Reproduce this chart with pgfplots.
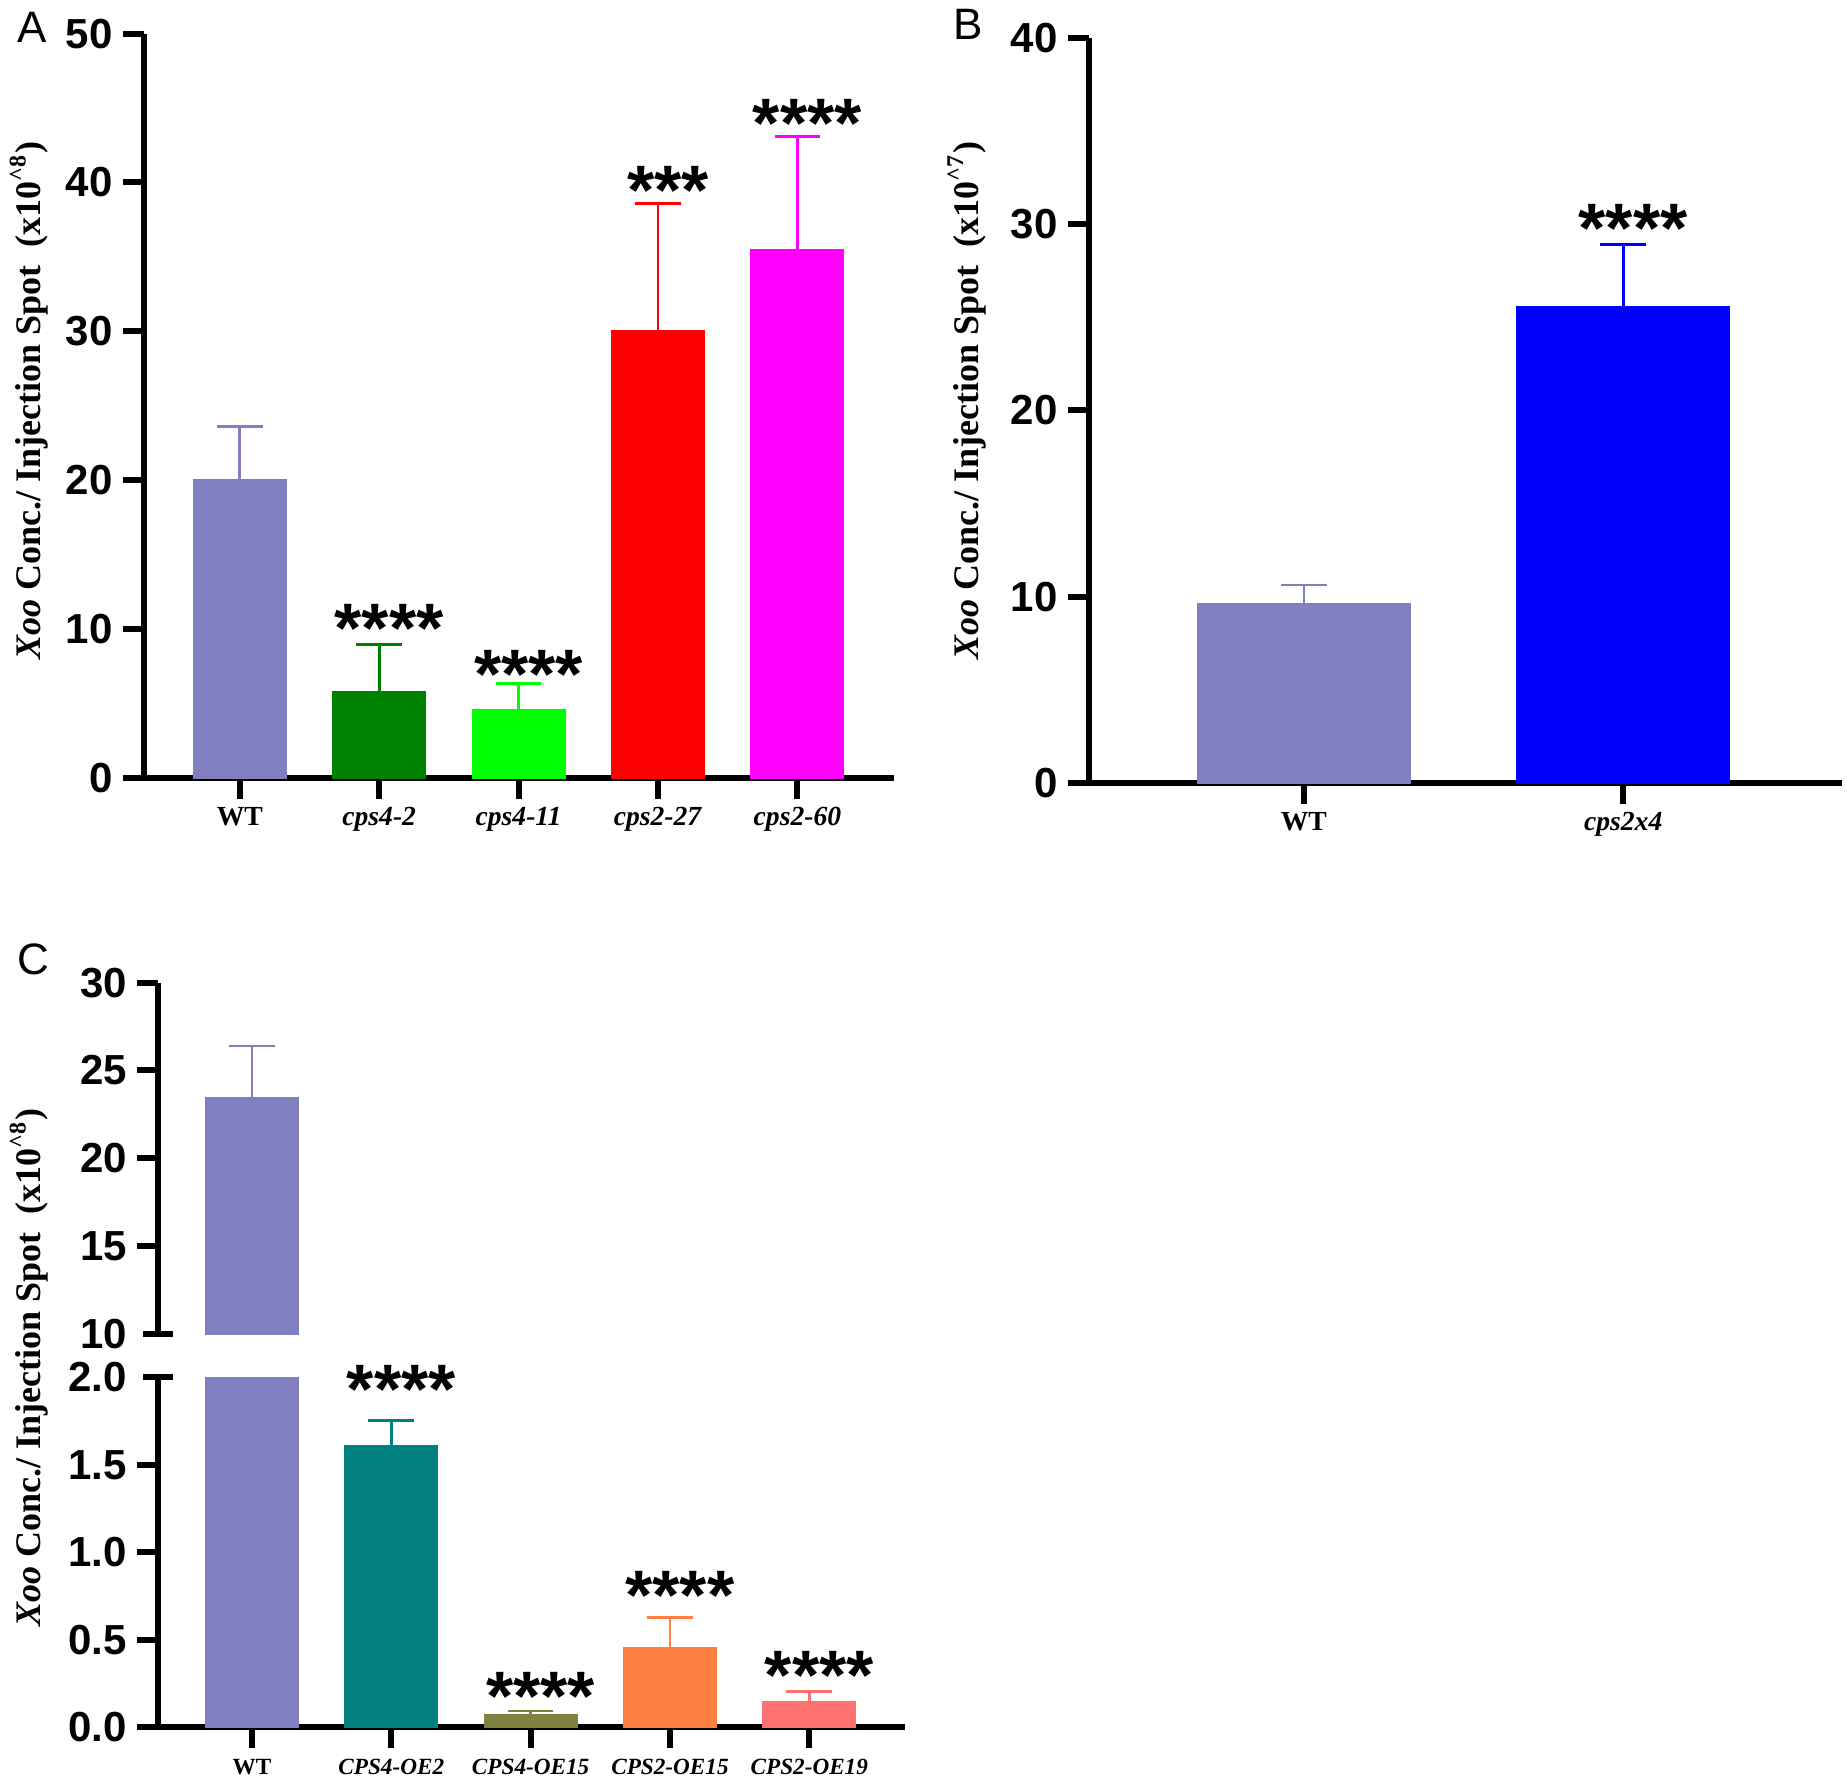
\documentclass[border=0pt]{standalone}
\usepackage{fontspec}
\setmainfont{Liberation Serif}
\newfontfamily\arial{Liberation Sans}
\usepackage{pgfplots}
\pgfplotsset{compat=1.18}

\definecolor{wt}{HTML}{8080C0}
\definecolor{cpsA}{HTML}{008000}
\definecolor{cpsB}{HTML}{00FF00}
\definecolor{cpsC}{HTML}{FF0000}
\definecolor{cpsD}{HTML}{FF00FF}
\definecolor{dbl}{HTML}{0000FF}
\definecolor{oeA}{HTML}{008080}
\definecolor{oeB}{HTML}{808040}
\definecolor{oeC}{HTML}{FF8040}
\definecolor{oeD}{HTML}{FF7070}

\pgfplotsset{
  panel/.style={
    scale only axis, anchor=south west, clip mode=individual,
    axis x line*=bottom, axis y line*=left,
    axis line style={line width=1.5pt,-},
    tick style={line width=1.5pt, black},
    tick align=outside, major tick length=5.2pt,
    minor tick num=0,
    yticklabel style={font=\arial\bfseries\fontsize{10.5}{12}\selectfont, anchor=east, inner sep=0pt, xshift=-2.4pt},
    xticklabel style={font=\bfseries\fontsize{6.9}{8}\selectfont, anchor=base, inner sep=0pt, yshift=-6.6pt},
  },
  mybar/.style={ybar, bar width=0.665, bar shift=0pt, fill=#1, draw=#1, line width=0.3pt,
    error bars/.cd, y dir=plus, y explicit,
    error bar style={line width=0.65pt, color=#1},
    error mark options={rotate=90, line width=0.65pt, mark size=5.7pt, color=#1}},
}
\tikzset{sig/.style={font=\arial\bfseries\fontsize{17.5}{20}\selectfont, anchor=base, inner sep=0pt, yshift=-5.5pt, xshift=2.5pt}}

\newcommand\ylab[1]{\textit{Xoo} Conc./ Injection Spot\ \ (x10\textsuperscript{\^{}#1})}

\begin{document}
\begin{tikzpicture}
\useasboundingbox (0,0) rectangle (461.75pt,445.25pt);

% ---------------- Panel A
\begin{axis}[panel, at={(35.9pt,250.75pt)}, width=187.5pt, height=186.1pt,
  xmin=-0.69, xmax=4.69, ymin=0, ymax=50,
  ytick={0,10,20,30,40,50}, yticklabels={0,10,20,30,40,50},
  xtick={0,1,2,3,4},
  xticklabels={WT,\textit{cps4-2},\textit{cps4-11},\textit{cps2-27},\textit{cps2-60}}]
\addplot[mybar=wt]   coordinates {(0,20.04) +- (0,3.56)};
\addplot[mybar=cpsA] coordinates {(1,5.78) +- (0,3.20)};
\addplot[mybar=cpsB] coordinates {(2,4.62) +- (0,1.71)};
\addplot[mybar=cpsC] coordinates {(3,30.04) +- (0,8.56)};
\addplot[mybar=cpsD] coordinates {(4,35.50) +- (0,7.60)};
\node[sig] at (axis cs:1,9.89) {****};
\node[sig] at (axis cs:2,6.80) {****};
\node[sig] at (axis cs:3,39.35) {***};
\node[sig] at (axis cs:4,43.82) {****};
\end{axis}

% ---------------- Panel B
\begin{axis}[panel, at={(272.2pt,249.5pt)}, width=188.3pt, height=186.25pt,
  xmin=-0.673, xmax=1.685, ymin=0, ymax=40,
  ytick={0,10,20,30,40}, yticklabels={0,10,20,30,40},
  xtick={0,1}, xticklabels={WT,\textit{cps2x4}}]
\addplot[mybar=wt]  coordinates {(0,9.62) +- (0,1.02)};
\addplot[mybar=dbl] coordinates {(1,25.60) +- (0,3.30)};
\node[sig] at (axis cs:1,29.69) {****};
\end{axis}

% ---------------- Panel C (upper segment)
\begin{axis}[panel, at={(39.55pt,111.75pt)}, width=186.8pt, height=87.85pt,
  axis x line=none,
  xmin=-0.673, xmax=4.69, ymin=10, ymax=30,
  ytick={15,20,25,30}, yticklabels={15,20,25,30},
  extra y ticks={10}, extra y tick labels={10\kern5.2pt},
  extra y tick style={major tick length=0pt}]
\addplot[mybar=wt] coordinates {(0,23.43) +- (0,2.96)};
\draw[line width=1.5pt] ([xshift=-3.7pt]rel axis cs:0,0) -- ([xshift=3.7pt]rel axis cs:0,0);
\end{axis}

% ---------------- Panel C (lower segment)
\begin{axis}[panel, at={(39.55pt,13.5pt)}, width=186.8pt, height=87.4pt,
  xmin=-0.673, xmax=4.69, ymin=0, ymax=2,
  ytick={0,0.5,1,1.5}, yticklabels={0.0,0.5,1.0,1.5},
  extra y ticks={2}, extra y tick labels={2.0\kern5.2pt},
  extra y tick style={major tick length=0pt},
  xtick={0,1,2,3,4},
  xticklabels={WT,\textit{CPS4-OE2},\textit{CPS4-OE15},\textit{CPS2-OE15},\textit{CPS2-OE19}},
  xticklabel style={font=\bfseries\fontsize{5.8}{7}\selectfont}]
\addplot[mybar=wt]  coordinates {(0,23.43) +- (0,2.96)};
\addplot[mybar=oeA] coordinates {(1,1.612) +- (0,0.143)};
\addplot[mybar=oeB] coordinates {(2,0.069) +- (0,0.023)};
\addplot[mybar=oeC] coordinates {(3,0.454) +- (0,0.171)};
\addplot[mybar=oeD] coordinates {(4,0.143) +- (0,0.059)};
\draw[line width=1.5pt] ([xshift=-3.7pt]rel axis cs:0,1) -- ([xshift=3.7pt]rel axis cs:0,1);
\node[sig] at (axis cs:1,1.922) {****};
\node[sig] at (axis cs:2,0.166) {****};
\node[sig] at (axis cs:3,0.743) {****};
\node[sig] at (axis cs:4,0.286) {****};
\end{axis}

% ---------------- texts
\node[font=\arial\fontsize{11}{13}\selectfont] at (8.1pt,438.5pt) {A};
\node[font=\arial\fontsize{11}{13}\selectfont] at (242pt,439.1pt) {B};
\node[font=\arial\fontsize{11}{13}\selectfont] at (8.4pt,205.35pt) {C};
\node[rotate=90, font=\bfseries\fontsize{9}{11}\selectfont] at (7.3pt,345.1pt) {\ylab{8}};
\node[rotate=90, font=\bfseries\fontsize{9}{11}\selectfont] at (241.65pt,345.1pt) {\ylab{7}};
\node[rotate=90, font=\bfseries\fontsize{9}{11}\selectfont] at (7.3pt,103.3pt) {\ylab{8}};
\end{tikzpicture}
\end{document}
